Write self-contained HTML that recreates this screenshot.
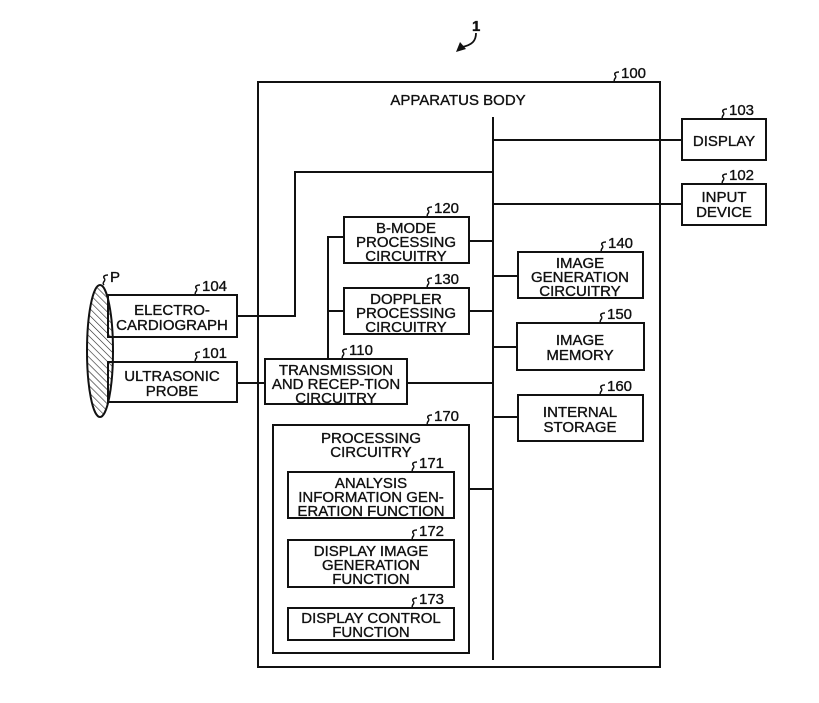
<!DOCTYPE html>
<html><head><meta charset="utf-8"><style>
html,body{margin:0;padding:0;background:#fff;}
svg{display:block;}
text{font-family:"Liberation Sans",Arial,sans-serif;font-size:15px;fill:#111;stroke:#111;stroke-width:0.35;}
.c{text-anchor:middle;}
.n{font-size:15px;}
</style></head><body>
<svg width="819" height="703" viewBox="0 0 819 703" xmlns="http://www.w3.org/2000/svg">
<defs>
<pattern id="h" width="5" height="5" patternUnits="userSpaceOnUse" patternTransform="rotate(-45)">
<line x1="0" y1="0" x2="0" y2="5" stroke="#222" stroke-width="1.2"/>
</pattern>
</defs>
<g fill="none" stroke="#111" stroke-width="2">
<rect x="258" y="82" width="402" height="585"/>
<line x1="493" y1="117" x2="493" y2="660"/>
<rect x="682" y="119" width="84" height="41"/>
<rect x="682" y="184" width="84" height="41"/>
<line x1="493" y1="140" x2="682" y2="140"/>
<line x1="493" y1="204" x2="682" y2="204"/>
<polyline points="493,172 295,172 295,316 237,316"/>
<ellipse cx="100" cy="351" rx="13" ry="66" fill="url(#h)"/>
<rect x="108" y="295" width="129" height="42"/>
<rect x="108" y="362" width="129" height="40"/>
<line x1="237" y1="383" x2="265" y2="383"/>
<rect x="265" y="359" width="142" height="45"/>
<line x1="407" y1="383" x2="493" y2="383"/>
<polyline points="344,237 328,237 328,359"/>
<line x1="328" y1="311" x2="344" y2="311"/>
<rect x="344" y="217" width="125" height="46"/>
<rect x="344" y="288" width="125" height="46"/>
<line x1="469" y1="241" x2="493" y2="241"/>
<line x1="469" y1="311" x2="493" y2="311"/>
<rect x="518" y="252" width="125" height="46"/>
<rect x="517" y="323" width="127" height="47"/>
<rect x="518" y="395" width="125" height="46"/>
<line x1="493" y1="276" x2="518" y2="276"/>
<line x1="493" y1="347" x2="517" y2="347"/>
<line x1="493" y1="417" x2="518" y2="417"/>
<rect x="273" y="425" width="196" height="228"/>
<line x1="469" y1="489" x2="493" y2="489"/>
<rect x="288" y="472" width="166" height="46"/>
<rect x="288" y="540" width="166" height="47"/>
<rect x="288" y="608" width="166" height="32"/>
</g>
<g fill="none" stroke="#111" stroke-width="1.5">
<path d="M615,82 c-3,-3 3,-4 0,-7 c-1,-2 1,-3 4,-3"/>
<path d="M723,119 c-3,-3 3,-4 0,-7 c-1,-2 1,-3 4,-3"/>
<path d="M723,184 c-3,-3 3,-4 0,-7 c-1,-2 1,-3 4,-3"/>
<path d="M196,295 c-3,-3 3,-4 0,-7 c-1,-2 1,-3 4,-3"/>
<path d="M196,362 c-3,-3 3,-4 0,-7 c-1,-2 1,-3 4,-3"/>
<path d="M343,359 c-3,-3 3,-4 0,-7 c-1,-2 1,-3 4,-3"/>
<path d="M428,217 c-3,-3 3,-4 0,-7 c-1,-2 1,-3 4,-3"/>
<path d="M428,288 c-3,-3 3,-4 0,-7 c-1,-2 1,-3 4,-3"/>
<path d="M602,252 c-3,-3 3,-4 0,-7 c-1,-2 1,-3 4,-3"/>
<path d="M601,323 c-3,-3 3,-4 0,-7 c-1,-2 1,-3 4,-3"/>
<path d="M601,395 c-3,-3 3,-4 0,-7 c-1,-2 1,-3 4,-3"/>
<path d="M428,425 c-3,-3 3,-4 0,-7 c-1,-2 1,-3 4,-3"/>
<path d="M413,472 c-3,-3 3,-4 0,-7 c-1,-2 1,-3 4,-3"/>
<path d="M413,540 c-3,-3 3,-4 0,-7 c-1,-2 1,-3 4,-3"/>
<path d="M413,608 c-3,-3 3,-4 0,-7 c-1,-2 1,-3 4,-3"/>
<path d="M104,285 c-3,-3 3,-4 0,-7 c-1,-2 1,-3 4,-3"/>
<path d="M476,33 c0,8 -4,12 -14,14" stroke-width="1.8"/>
</g>
<path d="M456,52 L460,42 L466,49 Z" fill="#111"/>
<text x="621" y="78" class="n">100</text>
<text x="729" y="115" class="n">103</text>
<text x="729" y="180" class="n">102</text>
<text x="202" y="291" class="n">104</text>
<text x="202" y="358" class="n">101</text>
<text x="349" y="355" class="n">110</text>
<text x="434" y="213" class="n">120</text>
<text x="434" y="284" class="n">130</text>
<text x="608" y="248" class="n">140</text>
<text x="607" y="319" class="n">150</text>
<text x="607" y="391" class="n">160</text>
<text x="434" y="421" class="n">170</text>
<text x="419" y="468" class="n">171</text>
<text x="419" y="536" class="n">172</text>
<text x="419" y="604" class="n">173</text>
<text x="110" y="282" class="n">P</text>
<text x="472" y="31" style="font-weight:bold">1</text>
<text x="458" y="105" class="c">APPARATUS BODY</text>
<text x="724" y="146" class="c">DISPLAY</text>
<text x="724" y="202" class="c">INPUT</text>
<text x="724" y="217" class="c">DEVICE</text>
<text x="172" y="315" class="c">ELECTRO-</text>
<text x="172" y="330" class="c">CARDIOGRAPH</text>
<text x="172" y="381" class="c">ULTRASONIC</text>
<text x="172" y="396" class="c">PROBE</text>
<text x="336" y="375" class="c">TRANSMISSION</text>
<text x="336" y="389" class="c">AND RECEP-TION</text>
<text x="336" y="403" class="c">CIRCUITRY</text>
<text x="406" y="233" class="c">B-MODE</text>
<text x="406" y="247" class="c">PROCESSING</text>
<text x="406" y="261" class="c">CIRCUITRY</text>
<text x="406" y="304" class="c">DOPPLER</text>
<text x="406" y="318" class="c">PROCESSING</text>
<text x="406" y="332" class="c">CIRCUITRY</text>
<text x="580" y="268" class="c">IMAGE</text>
<text x="580" y="282" class="c">GENERATION</text>
<text x="580" y="296" class="c">CIRCUITRY</text>
<text x="580" y="345" class="c">IMAGE</text>
<text x="580" y="360" class="c">MEMORY</text>
<text x="580" y="417" class="c">INTERNAL</text>
<text x="580" y="432" class="c">STORAGE</text>
<text x="371" y="443" class="c">PROCESSING</text>
<text x="371" y="457" class="c">CIRCUITRY</text>
<text x="371" y="488" class="c">ANALYSIS</text>
<text x="371" y="502" class="c">INFORMATION GEN-</text>
<text x="371" y="516" class="c">ERATION FUNCTION</text>
<text x="371" y="556" class="c">DISPLAY IMAGE</text>
<text x="371" y="570" class="c">GENERATION</text>
<text x="371" y="584" class="c">FUNCTION</text>
<text x="371" y="623" class="c">DISPLAY CONTROL</text>
<text x="371" y="637" class="c">FUNCTION</text>
</svg>
</body></html>
